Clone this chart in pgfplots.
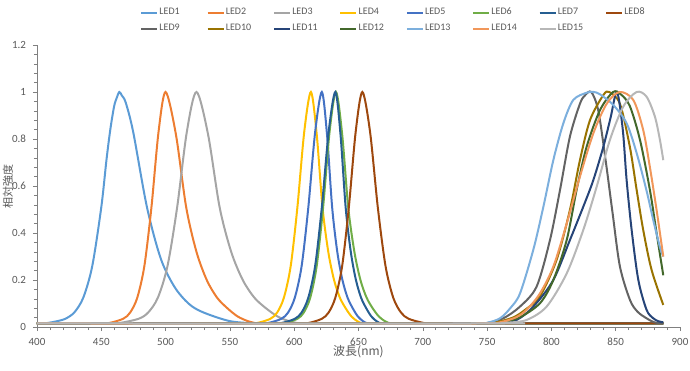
\documentclass[border=0pt]{standalone}
\usepackage{fontspec}
\setmainfont{Carlito}
\newfontfamily\jp{Noto Sans CJK JP}
\usepackage{pgfplots}
\pgfplotsset{compat=1.18}
\usetikzlibrary{calc}

\definecolor{c1}{HTML}{5B9BD5}
\definecolor{c2}{HTML}{ED7D31}
\definecolor{c3}{HTML}{A5A5A5}
\definecolor{c4}{HTML}{FFC000}
\definecolor{c5}{HTML}{4472C4}
\definecolor{c6}{HTML}{70AD47}
\definecolor{c7}{HTML}{255E91}
\definecolor{c8}{HTML}{9E480E}
\definecolor{c9}{HTML}{636363}
\definecolor{c10}{HTML}{997300}
\definecolor{c11}{HTML}{264478}
\definecolor{c12}{HTML}{43682B}
\definecolor{c13}{HTML}{7CAFDD}
\definecolor{c14}{HTML}{F1975A}
\definecolor{c15}{HTML}{B7B7B7}
\definecolor{axgray}{HTML}{808080}
\definecolor{txtgray}{HTML}{595959}

\newcommand{\legtxt}[1]{\makebox[23pt][l]{#1}}

\begin{document}
\begin{tikzpicture}
\begin{axis}[
  name=main,
  scale only axis,
  width=321.5pt, height=141pt,
  xmin=400, xmax=900, ymin=0, ymax=1.2,
  xtick={400,450,...,900},
  ytick={0,0.2,...,1.2},
  minor x tick num=4,
  minor y tick num=4,
  axis x line*=bottom,
  axis y line*=left,
  axis line style={axgray, -},
  tick style={axgray},
  tick align=outside,
  major tick length=2pt,
  minor tick length=1.5pt,
  /pgf/number format/assume math mode=true,
  tick label style={font=\fontsize{5.5}{6}\selectfont, text=txtgray},
  xlabel={\jp 波長(nm)},
  ylabel={\jp 相対強度},
  xlabel style={font=\fontsize{6}{7}\selectfont, text=txtgray, at={(axis description cs:0.5,-0.089)}, anchor=center},
  ylabel style={font=\fontsize{5.5}{6.5}\selectfont, text=txtgray, at={(axis description cs:-0.045,0.5)}, anchor=center},
  legend columns=8,
  legend style={
    at={(axis description cs:0.16,1)}, anchor=south west, yshift=5pt,
    draw=none, fill=none, inner sep=0pt,
    font=\fontsize{5}{6}\selectfont, text=txtgray,
    row sep=2pt,
    nodes={inner sep=0.6pt},
  },
  legend cell align=left,
  legend image code/.code={\draw[#1] (0pt,0pt) -- (8pt,0pt);},
  every axis plot/.append style={line width=1pt, smooth, no marks},
]
% visible LEDs
\addplot[c1] coordinates {(400,0.015)(408,0.017)(415,0.024)(422,0.035)(429,0.062)(436,0.125)(443,0.26)(450,0.51)(454,0.71)(457,0.84)(460,0.94)(462,0.975)(464,1)(466,0.985)(469,0.955)(474.8,0.83)(485.5,0.51)(496.3,0.29)(507,0.17)(517.8,0.10)(528.5,0.064)(550,0.025)(571.5,0.015)(585,0.015)(887,0.015)};
\addlegendentry{\legtxt{LED1}}
\addplot[c2] coordinates {(400,0.015)(446,0.015)(456,0.017)(467,0.035)(472.5,0.062)(478,0.125)(483.5,0.26)(489,0.51)(494.5,0.83)(500,1)(508,0.82)(516,0.51)(524,0.32)(532,0.2)(540,0.125)(548,0.08)(556,0.045)(564,0.025)(572,0.015)(582,0.015)(887,0.015)};
\addlegendentry{\legtxt{LED2}}
\addplot[c3] coordinates {(400,0.015)(452,0.015)(464,0.017)(479,0.035)(486.5,0.062)(494,0.125)(501.5,0.26)(509,0.51)(516.5,0.83)(524,1)(533,0.82)(542,0.51)(551,0.32)(560,0.2)(569,0.125)(578,0.08)(587,0.045)(596,0.025)(605,0.015)(615,0.015)(887,0.015)};
\addlegendentry{\legtxt{LED3}}
\addplot[c4] coordinates {(400,0.015)(561,0.015)(571,0.017)(581.5,0.035)(586.8,0.062)(592,0.125)(597.3,0.26)(602.5,0.51)(607.8,0.83)(613,1)(617.5,0.82)(622,0.51)(626.5,0.32)(631,0.2)(635.5,0.125)(640,0.08)(644.5,0.045)(649,0.025)(653.5,0.015)(663,0.015)(887,0.015)};
\addlegendentry{\legtxt{LED4}}
\addplot[c5] coordinates {(400,0.015)(569,0.015)(579.5,0.017)(590,0.035)(595.3,0.062)(600.5,0.125)(605.8,0.26)(611,0.51)(616.3,0.83)(621.5,1)(625.5,0.82)(629.5,0.51)(633.5,0.32)(637.5,0.2)(641.5,0.125)(645.5,0.08)(649.5,0.045)(653.5,0.025)(657.5,0.015)(667,0.015)(887,0.015)};
\addlegendentry{\legtxt{LED5}}
\addplot[c6] coordinates {(400,0.015)(582,0.015)(592.5,0.017)(602.5,0.035)(607.5,0.062)(612.5,0.125)(617.5,0.26)(622.5,0.51)(627.5,0.83)(632.5,1)(637.3,0.82)(642,0.51)(646.8,0.32)(651.5,0.2)(656.3,0.125)(661,0.08)(665.8,0.045)(670.5,0.025)(675.3,0.015)(685,0.015)(887,0.015)};
\addlegendentry{\legtxt{LED6}}
\addplot[c7] coordinates {(400,0.015)(580,0.015)(590,0.017)(600.5,0.035)(605.8,0.062)(611,0.125)(616.3,0.26)(621.5,0.51)(626.8,0.83)(632,1)(636,0.82)(640,0.51)(644,0.32)(648,0.2)(652,0.125)(656,0.08)(660,0.045)(664,0.025)(668,0.015)(678,0.015)(887,0.015)};
\addlegendentry{\legtxt{LED7}}
\addplot[c8] coordinates {(400,0.015)(601,0.015)(611,0.017)(621.5,0.035)(626.8,0.062)(632,0.125)(637.3,0.26)(642.5,0.51)(647.8,0.83)(653,1)(659,0.83)(665,0.51)(671,0.26)(677,0.125)(683,0.062)(689,0.035)(701,0.017)(710,0.015)(720,0.015)(887,0.015)};
\addlegendentry{\legtxt{LED8}}
% near-infrared LEDs
\addplot[c9] coordinates {(400,0.015)(740,0.015)(750,0.017)(762.6,0.037)(775.6,0.087)(788.5,0.172)(798.9,0.37)(806.7,0.583)(814.4,0.81)(822.2,0.95)(826,0.985)(831,1)(836.5,0.92)(842.4,0.70)(847.6,0.484)(853.3,0.257)(861.1,0.115)(867,0.065)(874,0.037)(880,0.02)(887,0.015)};
\addlegendentry{\legtxt{LED9}}
\addplot[c10] coordinates {(400,0.015)(745,0.015)(755,0.018)(770,0.04)(780,0.075)(791,0.13)(804,0.285)(814.4,0.498)(822.2,0.71)(830,0.88)(840.4,0.987)(845,1)(853.3,0.95)(861,0.767)(866.3,0.583)(871.4,0.413)(877.9,0.243)(887,0.094)};
\addlegendentry{\legtxt{LED10}}
\addplot[c11] coordinates {(400,0.015)(750,0.015)(760,0.017)(773,0.03)(786,0.087)(801.5,0.2)(814.4,0.37)(824.8,0.512)(832.6,0.625)(840.4,0.767)(846,0.89)(851,1)(855.5,0.84)(858.5,0.625)(862.4,0.413)(867.6,0.2)(874,0.073)(879,0.038)(883,0.025)(887,0.02)};
\addlegendentry{\legtxt{LED11}}
\addplot[c12] coordinates {(400,0.015)(750,0.015)(760,0.018)(775,0.04)(791.1,0.101)(801.5,0.2)(811.9,0.37)(819.6,0.583)(827.4,0.767)(837.8,0.923)(848,1)(854,0.99)(861,0.94)(868.9,0.796)(876.6,0.583)(881.8,0.4)(887,0.22)};
\addlegendentry{\legtxt{LED12}}
\addplot[c13] coordinates {(400,0.015)(740,0.015)(750,0.018)(760,0.037)(768,0.08)(775.6,0.143)(786,0.33)(793.7,0.51)(801.5,0.71)(809.3,0.867)(817,0.966)(827.4,0.997)(833,1)(837.8,0.99)(848.1,0.945)(858.5,0.867)(866.3,0.74)(874,0.58)(879.2,0.455)(884.4,0.34)(887,0.3)};
\addlegendentry{\legtxt{LED13}}
\addplot[c14] coordinates {(400,0.015)(750,0.015)(760,0.02)(772,0.04)(780.7,0.073)(791.1,0.143)(801.5,0.257)(811.9,0.44)(822.2,0.64)(832.6,0.824)(843,0.95)(853,1)(863.7,0.966)(871.4,0.838)(876.6,0.68)(881.8,0.498)(887,0.3)};
\addlegendentry{\legtxt{LED14}}
\addplot[c15] coordinates {(400,0.015)(755,0.015)(765,0.018)(780.7,0.03)(796.3,0.087)(811.9,0.228)(824.8,0.413)(835.2,0.597)(845.5,0.796)(855.9,0.938)(866.3,1)(874,0.98)(880.5,0.895)(884.4,0.796)(887,0.71)};
\addlegendentry{\legtxt{LED15}}
\end{axis}
\pgfresetboundingbox
\path[use as bounding box] ($(main.south west)+(-18.5pt,-21.5pt)$) rectangle ($(main.north east)+(5pt,22.5pt)$);
\end{tikzpicture}
\end{document}
